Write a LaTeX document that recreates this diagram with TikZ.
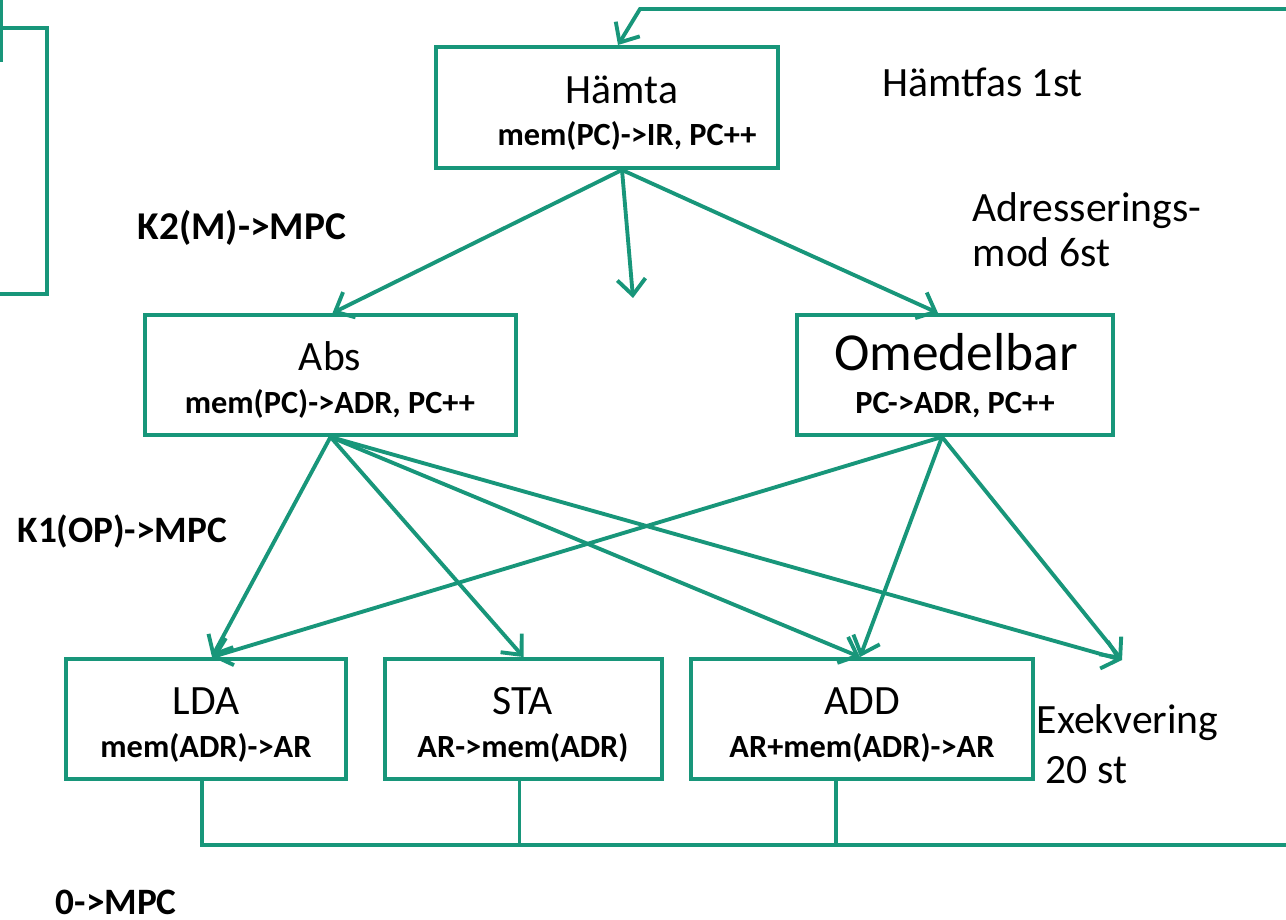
\documentclass[tikz,border=0pt]{standalone}
\usepackage{fontspec}
\setmainfont{Carlito}
\usetikzlibrary{arrows.meta,calc}
\definecolor{tgreen}{RGB}{24,150,122}
\newcommand\bigtxt{\fontsize{11.85}{14}\selectfont}
\newcommand\omtxt{\fontsize{15.2}{17}\selectfont}
\newcommand\smtxt{\bfseries\fontsize{9.2}{11}\selectfont}
\newcommand\ktxt{\bfseries\fontsize{10.6}{12}\selectfont}
\begin{document}
\begin{tikzpicture}[x=0.01cm,y=-0.01cm,
  box/.style={draw=tgreen,line width=1.1pt,inner sep=0pt,minimum height=1.2cm},
  conn/.style={draw=tgreen,line width=1.1pt},
  arr/.style={conn,-{Straight Barb[length=4.5pt,width=8pt,line width=1.1pt]}},
  title/.style={anchor=base,inner sep=0pt,font=\bigtxt},
  sub/.style={anchor=base,inner sep=0pt,font=\smtxt},
  note/.style={anchor=base west,inner sep=0pt,font=\bigtxt},
  bnote/.style={anchor=base west,inner sep=0pt,font=\ktxt}]
\useasboundingbox (0,0) rectangle (1286,919);
% partial box at left edge
\draw[conn] (0,28) -- (47,28) -- (47,294) -- (0,294);
\draw[conn] (1,0) -- (1,62);
% boxes
\node[box,minimum width=3.42cm,minimum height=1.21cm] (hamta) at (607,107.5) {};
\node[box,minimum width=3.71cm] (abs) at (330.5,375) {};
\node[box,minimum width=3.16cm] (omed) at (955,375) {};
\node[box,minimum width=2.80cm] (lda) at (206,719) {};
\node[box,minimum width=2.77cm] (sta) at (523.5,719) {};
\node[box,minimum width=3.42cm] (add) at (862,719) {};
% box texts
\node[title] (t1) at (622,104) {Hämta};
\node[sub] (s1) at (627,146) {mem(PC)->IR, PC++};
\node[title] (t2) at (330,371) {Abs};
\node[sub] (s2) at (330,413) {mem(PC)->ADR, PC++};
\node[title,font=\omtxt] (t3) at (956,371) {Omedelbar};
\node[sub] (s3) at (955,413) {PC->ADR, PC++};
\node[title] (t4) at (206,714) {LDA};
\node[sub] (s4) at (206,757) {mem(ADR)->AR};
\node[title] (t5) at (523,714) {STA};
\node[sub] (s5) at (523,757) {AR->mem(ADR)};
\node[title] (t6) at (862,714) {ADD};
\node[sub] (s6) at (862,757) {AR+mem(ADR)->AR};
% side notes
\node[note] (n1) at (882,97) {Hämtfas 1st};
\node[note] (n2) at (972,222) {Adresserings-};
\node[note] (n3) at (972,267) {mod 6st};
\node[note] (n4) at (1036,733) {Exekvering};
\node[note] (n5) at (1045,783) {20 st};
\node[bnote,font=\bfseries\fontsize{11.2}{13}\selectfont] (k2) at (137,240) {K2(M)->MPC};
\node[bnote] (k1) at (17,542) {K1(OP)->MPC};
\node[bnote] (k0) at (55,914) {0->MPC};
% free ends
\coordinate (free1) at (633,298);
\coordinate (free2) at (1122,660);
% fetch -> addressing
\coordinate (hout) at ($(hamta.south)+(15,0)$);
\draw[arr] (hout) -- ($(abs.north)+(2,0)$);
\draw[arr] (hout) -- (free1);
\draw[arr] (hout) -- ($(omed.north)+(-17,0)$);
% addressing -> execution
\coordinate (oout) at ($(omed.south)+(-13,0)$);
\draw[arr] (abs.south) -- ($(lda.north)+(6,0)$);
\draw[arr] (abs.south) -- (sta.north);
\draw[arr] (abs.south) -- ($(add.north)+(-2,0)$);
\draw[arr] (abs.south) -- (free2);
\draw[arr] (oout) -- ($(lda.north)+(6,0)$);
\draw[arr] (oout) -- ($(add.north)+(-2,0)$);
\draw[arr] (oout) -- (free2);
% return bus
\coordinate (busL) at (200,845);
\coordinate (busR) at (1286,845);
\coordinate (ldatap) at ($(lda.south)+(-4,0)$);
\coordinate (statap) at ($(sta.south)+(-4,0)$);
\coordinate (addtap) at ($(add.south)+(-26,0)$);
\draw[conn] (busL) -- (busR);
\draw[conn] (ldatap) -- (ldatap |- busL);
\draw[conn] (statap) -- (statap |- busL);
\draw[conn] (addtap) -- (addtap |- busL);
% top return
\coordinate (topR) at (1286,9);
\coordinate (topC) at (640,9);
\draw[arr] (topR) -- (topC) -- ($(hamta.north)+(11,0)$);
\end{tikzpicture}
\end{document}
